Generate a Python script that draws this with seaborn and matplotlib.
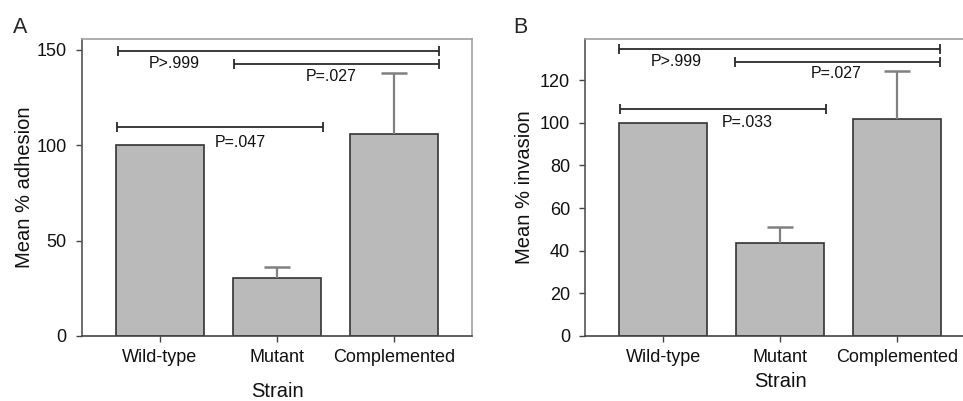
import numpy as np
import pandas as pd
import matplotlib
matplotlib.use("Agg")
import matplotlib.pyplot as plt
import seaborn as sns

# ---- data ----
strains = ["Wild-type", "Mutant", "Complemented"]
adhesion_mean = [100.0, 30.6, 106.1]
adhesion_err = [0.0, 5.7, 32.0]
invasion_mean = [100.0, 43.6, 101.9]
invasion_err = [0.0, 7.6, 22.5]

# significance brackets: (start, end, height, label, label_x, label_y)
adhesion_brackets = [(-0.36, 2.385, 149.6, "P>.999", 0.12, 143.0),
                     (0.63, 2.385, 142.6, "P=.027", 1.46, 136.3),
                     (-0.37, 1.39, 109.6, "P=.047", 0.69, 101.7)]
invasion_brackets = [(-0.375, 2.365, 134.4, "P>.999", 0.11, 128.6),
                     (0.61, 2.365, 128.6, "P=.027", 1.48, 123.1),
                     (-0.37, 1.39, 106.4, "P=.033", 0.72, 100.0)]

sns.set_style("ticks")
plt.rcParams["font.family"] = ["Liberation Sans", "DejaVu Sans"]

fig = plt.figure(figsize=(9.63, 4.01), dpi=100)
axA = fig.add_axes([82 / 963, 65 / 401, 390 / 963, 297 / 401])
axB = fig.add_axes([585.3 / 963, 65 / 401, 390 / 963, 296.7 / 401])

BAR = "#bababa"
EDGE = "#333333"
ERR = "#808080"


def panel(ax, means, errs, brackets, ylabel, ylim, yticks, xlabelpad, ylabelpad):
    df = pd.DataFrame({"Strain": strains, "val": means})
    sns.barplot(data=df, x="Strain", y="val", color=BAR, saturation=1,
                edgecolor=EDGE, linewidth=1.2, width=0.75, errorbar=None, ax=ax)
    x = np.arange(len(strains))
    m = np.array(means)
    e = np.array(errs)
    mask = e > 0
    eb = ax.errorbar(x[mask], m[mask], yerr=[np.zeros(mask.sum()), e[mask]],
                     fmt="none", ecolor=ERR, elinewidth=1.6, capsize=9.7,
                     capthick=1.8, zorder=1)
    caps = eb[1]
    if len(caps) >= 2:
        caps[0].set_visible(False)
    for (x0, x1, h, lab, lx, ly) in brackets:
        ax.errorbar([(x0 + x1) / 2], [h], xerr=[(x1 - x0) / 2], fmt="none",
                    ecolor="#2a2a2a", elinewidth=1.3, capsize=3.6, capthick=1.3)
        ax.text(lx, ly, lab, ha="center", va="center", fontsize=11.5, color="#111111")
    ax.set_xlim(-0.667, 2.667)
    ax.set_ylim(*ylim)
    ax.set_yticks(yticks)
    ax.set_xlabel("Strain", fontsize=14.5, labelpad=xlabelpad, color="#111111")
    ax.set_ylabel(ylabel, fontsize=14.5, labelpad=ylabelpad, color="#111111")
    ax.tick_params(axis="both", labelsize=13, length=4, width=1, color="#444444",
                   labelcolor="#111111")
    ax.tick_params(axis="y", pad=7)
    ax.tick_params(axis="x", pad=5)
    ax.spines["left"].set_color("#555555")
    ax.spines["bottom"].set_color("#444444")
    ax.spines["top"].set_color("#a0a0a0")
    ax.spines["right"].set_color("#a0a0a0")
    for s in ax.spines.values():
        s.set_linewidth(1.2)


panel(axA, adhesion_mean, adhesion_err, adhesion_brackets, "Mean % adhesion",
      (0, 155.7), [0, 50, 100, 150], 12, 2)
panel(axB, invasion_mean, invasion_err, invasion_brackets, "Mean % invasion",
      (0, 139.1), [0, 20, 40, 60, 80, 100, 120], 5, 4)

fig.text(12.7 / 963, 1 - 33.3 / 401, "A", fontsize=15.5, va="baseline", ha="left")
fig.text(513 / 963, 1 - 33.3 / 401, "B", fontsize=15.5, va="baseline", ha="left")

fig.savefig("out.png", dpi=100)
